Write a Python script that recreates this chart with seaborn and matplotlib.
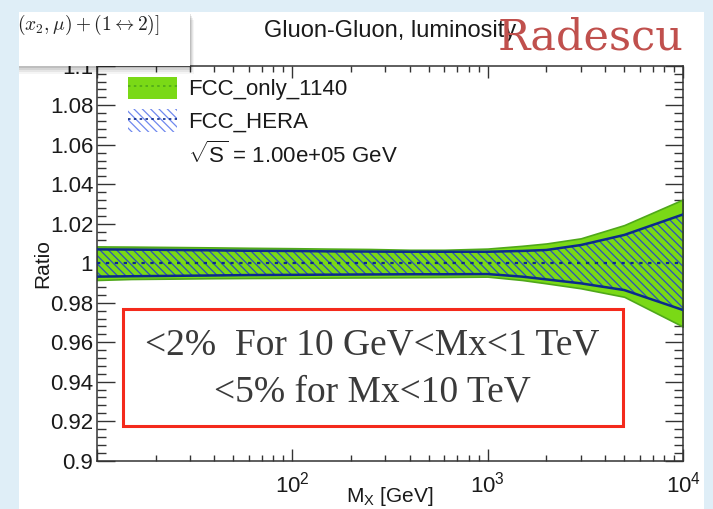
import pandas as pd
import seaborn as sns
import matplotlib.pyplot as plt
from matplotlib.patches import Rectangle, Patch
from matplotlib.lines import Line2D
from matplotlib.ticker import FixedLocator, FixedFormatter, LogLocator, MultipleLocator, NullFormatter

# values
mx = [10, 15, 25, 40, 60, 100, 150, 250, 400, 600, 1000, 1500, 2000, 3000, 5000, 10000]
fcc_only_hi = [1.0085, 1.0084, 1.0082, 1.0080, 1.0078, 1.0076, 1.0074, 1.0072, 1.0068, 1.0068,
               1.0074, 1.0088, 1.0100, 1.0126, 1.0193, 1.0323]
fcc_only_lo = [0.9915, 0.9920, 0.9922, 0.9924, 0.9925, 0.9926, 0.9927, 0.9928, 0.9929, 0.9930,
               0.9932, 0.9915, 0.9898, 0.9873, 0.9830, 0.9679]
fcc_hera_hi = [1.0070, 1.0069, 1.0067, 1.0065, 1.0063, 1.0062, 1.0060, 1.0059, 1.0058, 1.0058,
               1.0058, 1.0062, 1.0067, 1.0092, 1.0143, 1.0247]
fcc_hera_lo = [0.9932, 0.9934, 0.9936, 0.9938, 0.9940, 0.9941, 0.9942, 0.9943, 0.9944, 0.9944,
               0.9945, 0.9932, 0.9918, 0.9898, 0.9864, 0.9763]
ratio_central = [1.0] * len(mx)

y_ticks = [0.9, 0.92, 0.94, 0.96, 0.98, 1.0, 1.02, 1.04, 1.06, 1.08, 1.1]
y_tick_labels = ["0.9", "0.92", "0.94", "0.96", "0.98", "1", "1.02", "1.04", "1.06", "1.08", "1.1"]
x_ticks = [10, 100, 1000, 10000]
x_tick_labels = ["", "$10^{2}$", "$10^{3}$", "$10^{4}$"]
legend_labels = ["FCC_only_1140", "FCC_HERA", r"$\sqrt{\mathrm{S}}$ = 1.00e+05 GeV"]

GREEN = "#7ad916"
DKGREEN = "#4fa81a"
HATCH = "#2a4fc0"
NAVY = "#0b2a8c"

df = pd.DataFrame({"mx": mx, "only_hi": fcc_only_hi, "only_lo": fcc_only_lo,
                   "hera_hi": fcc_hera_hi, "hera_lo": fcc_hera_lo, "central": ratio_central})

sns.set_theme(style="ticks")
plt.rcParams["font.family"] = ["Liberation Sans", "DejaVu Sans"]
plt.rcParams["mathtext.fontset"] = "custom"
plt.rcParams["mathtext.rm"] = "Liberation Sans"
plt.rcParams["mathtext.it"] = "Liberation Sans:italic"
plt.rcParams["hatch.linewidth"] = 0.9

fig = plt.figure(figsize=(7.13, 5.09), dpi=100)
fig.patch.set_facecolor("#dfeef7")
# white slide panel
fig.add_artist(Rectangle((0.0266, 0), 0.9607, 0.9764, transform=fig.transFigure,
                         facecolor="white", edgecolor="none", zorder=0))

ax = fig.add_axes([0.1356, 0.0949, 0.8224, 0.776])
ax.set_facecolor("white")

ax.fill_between(df["mx"], df["only_lo"], df["only_hi"], facecolor=GREEN, edgecolor=DKGREEN,
                linewidth=1.2, zorder=1)
ax.fill_between(df["mx"], df["hera_lo"], df["hera_hi"], facecolor="none", edgecolor=HATCH,
                hatch="\\\\\\\\", linewidth=0, zorder=2)
sns.lineplot(data=df, x="mx", y="hera_hi", color=NAVY, lw=1.8, ax=ax, zorder=3)
sns.lineplot(data=df, x="mx", y="hera_lo", color=NAVY, lw=1.8, ax=ax, zorder=3)
sns.lineplot(data=df, x="mx", y="central", color=NAVY, lw=1.6, ls=(0, (1.5, 2.5)), ax=ax, zorder=4)

ax.set_xscale("log")
ax.set_xlim(10, 10000)
ax.set_ylim(0.9, 1.1)
ax.xaxis.set_major_locator(FixedLocator(x_ticks))
ax.xaxis.set_major_formatter(FixedFormatter(x_tick_labels))
ax.xaxis.set_minor_locator(LogLocator(base=10, subs=range(2, 10)))
ax.xaxis.set_minor_formatter(NullFormatter())
ax.yaxis.set_major_locator(FixedLocator(y_ticks))
ax.yaxis.set_major_formatter(FixedFormatter(y_tick_labels))
ax.yaxis.set_minor_locator(MultipleLocator(0.004))

ax.tick_params(which="both", direction="in", top=True, right=True, color="#333333",
               labelsize=16, labelcolor="#1a1a1a")
ax.tick_params(axis="y", which="major", length=13, width=1, pad=2.5)
ax.tick_params(axis="y", which="minor", length=6.5, width=1)
ax.tick_params(axis="x", which="major", length=8.6, width=1, pad=8)
ax.tick_params(axis="x", which="minor", length=4.3, width=1)
for s in ax.spines.values():
    s.set_color("#333333")
    s.set_linewidth(1.1)

ax.set_xlabel(r"M$_{\mathrm{X}}$ [GeV]", fontsize=15, color="#1a1a1a")
ax.set_ylabel("Ratio", fontsize=15, color="#1a1a1a")
ax.xaxis.set_label_coords(0.5, -0.062)
ax.yaxis.set_label_coords(-0.076, 0.5)

# legend
h_only = (Patch(facecolor=GREEN, edgecolor="none"),
          Line2D([], [], color=DKGREEN, lw=1.2, ls=(0, (1.5, 2))))
h_hera = (Patch(facecolor="white", edgecolor="#6f88ee", hatch="\\\\\\\\", lw=0),
          Line2D([], [], color=NAVY, lw=1.2, ls=(0, (1.5, 2))))
h_none = Line2D([], [], color="none")
ax.legend([h_only, h_hera, h_none], legend_labels, loc="upper left",
          bbox_to_anchor=(0.053, 0.972), frameon=False, fontsize=16, borderpad=0,
          borderaxespad=0, handlelength=2.2, handleheight=1.17, handletextpad=0.5,
          labelspacing=0.4, labelcolor="#1a1a1a")

# annotation box
fig.add_artist(Rectangle((0.1725, 0.163), 0.701, 0.23, transform=fig.transFigure,
                         facecolor="white", edgecolor="#f42a1c", lw=2.2, zorder=5))
fig.text(0.5225, 0.322, "<2%  For 10 GeV<Mx<1 TeV", ha="center", va="center",
         fontsize=27, family="Liberation Serif", color="#3a3a3a", zorder=6)
fig.text(0.5225, 0.230, "<5% for Mx<10 TeV", ha="center", va="center",
         fontsize=27, family="Liberation Serif", color="#3a3a3a", zorder=6)

# title and watermark
fig.text(0.547, 0.939, "Gluon-Gluon, luminosity", ha="center", va="center",
         fontsize=17, color="#1a1a1a")
fig.text(0.698, 0.902, "Radescu", ha="left", va="baseline", fontsize=31,
         family="DejaVu Serif", color="#c0504d", zorder=7)

# pasted formula box with shadow at top left
for i, a in enumerate([0.10, 0.08, 0.06, 0.04]):
    off = (i + 1) * 0.004
    fig.add_artist(Rectangle((0.0266, 0.8703 - off), 0.24 + off * 0.3, 0.106, transform=fig.transFigure,
                             facecolor="black", alpha=a, edgecolor="none", zorder=8))
box = Rectangle((0.0266, 0.8703), 0.24, 0.106, transform=fig.transFigure,
                facecolor="white", edgecolor="none", zorder=9)
fig.add_artist(box)
t = fig.text(0.024, 0.951, r"$(x_2, \mu) + (1 \leftrightarrow 2)]$", ha="left", va="center",
             fontsize=14, math_fontfamily="cm", color="#222222", zorder=10)
t.set_clip_path(box)

fig.savefig("out.png", dpi=100)
